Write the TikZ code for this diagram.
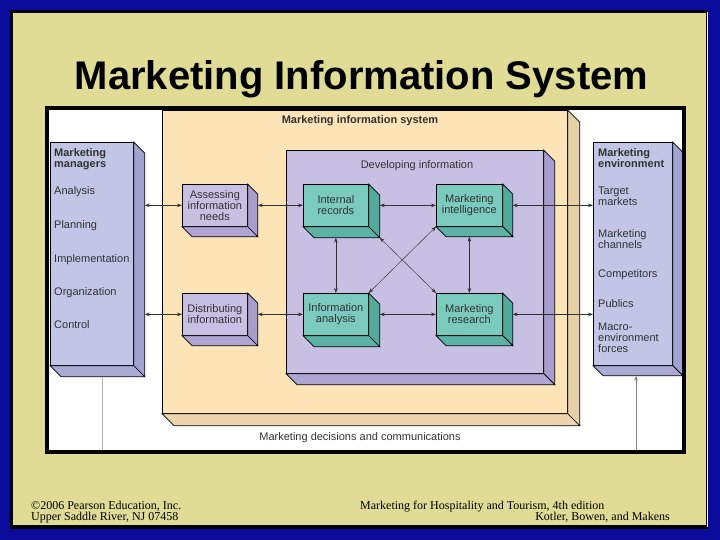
\documentclass[tikz,border=0pt]{standalone}
\usepackage{fontspec}
\setmainfont{Liberation Sans}
\newfontfamily\footfont{Liberation Serif}
\usetikzlibrary{arrows.meta,calc}

\definecolor{slideblue}{RGB}{10,10,155}
\definecolor{khaki}{RGB}{224,220,150}
\definecolor{envfront}{RGB}{195,197,230}
\definecolor{envside}{RGB}{160,163,208}
\definecolor{misfront}{RGB}{253,228,183}
\definecolor{misside}{RGB}{230,208,165}
\definecolor{devfront}{RGB}{200,192,226}
\definecolor{devside}{RGB}{168,158,206}
\definecolor{tealfront}{RGB}{122,203,190}
\definecolor{tealside}{RGB}{82,170,156}
\definecolor{inkgray}{RGB}{50,50,50}

\tikzset{
    face/.style={draw=black,line width=0.7pt,inner sep=0pt,align=center,
        text=inkgray,font=\fontsize{11}{11}\selectfont},
    item/.style={text=inkgray,inner sep=0pt,anchor=base west,
        font=\fontsize{11}{11}\selectfont},
    link/.style={draw=inkgray,line width=0.6pt,
        {Stealth[length=5pt,width=3.6pt]}-{Stealth[length=5pt,width=3.6pt]}},
    thinlink/.style={link,line width=0.45pt},
}

% solid block: name, top left, width, height, depth, front, side, text
\newcommand{\solidblock}[8]{%
    \node[face,fill=#6,minimum width=#3,minimum height=#4,anchor=north west] (#1) at (#2) {#8};
    \filldraw[fill=#7,draw=black,line width=0.7pt] (#1.north east) -- ++(#5,#5)
        -- ($(#1.south east)+(#5,#5)$) -- (#1.south east) -- cycle;
    \filldraw[fill=#7!75!#6,draw=black,line width=0.7pt] (#1.south west) -- ++(#5,#5)
        -- ($(#1.south east)+(#5,#5)$) -- (#1.south east) -- cycle;
    \coordinate (#1-r) at ($(#1.east)+(#5,0)$);
    \coordinate (#1-b) at ($(#1.south)+(0,#5)$);
    \coordinate (#1-c) at ($(#1.south east)+(#5,#5)$);
}

\begin{document}
\begin{tikzpicture}[x=1pt,y=-1pt]

    \useasboundingbox (0,0) rectangle (720,540);

    % slide
    \fill[slideblue] (0,0) rectangle (720,540);
    \fill[black] (10,10) rectangle (708,529);
    \fill[khaki] (13,13) rectangle (706,525);
    \draw[white!80!khaki,line width=1pt] (707,12) -- (707,527);

    \node[anchor=base,font=\bfseries\fontsize{40}{40}\selectfont] (heading) at (361.5,90) {Marketing Information System};

    \fill[white] (47,108) rectangle (684,452);

    % boxes
    \solidblock{mis}{162,110}{405pt}{303pt}{12}{misfront}{misside}{}
    \solidblock{dev}{286,150}{257pt}{223pt}{11}{devfront}{devside}{}

    \solidblock{ir}{303,184}{65pt}{42pt}{11}{tealfront}{tealside}{Internal\\records}
    \solidblock{mi}{436,184}{66pt}{42pt}{10}{tealfront}{tealside}{Marketing\\intelligence}
    \solidblock{ia}{303,293}{65pt}{42pt}{11}{tealfront}{tealside}{Information\\analysis}
    \solidblock{mr}{436,293}{66pt}{42pt}{10}{tealfront}{tealside}{Marketing\\research}

    \solidblock{an}{182,184}{65pt}{42pt}{10}{devfront}{devside}{Assessing\\information\\needs}
    \solidblock{di}{182,293}{65pt}{42pt}{10}{devfront}{devside}{Distributing\\information}

    \solidblock{mm}{50,142}{83pt}{223pt}{11}{envfront}{envside}{}
    \solidblock{me}{593,142}{79pt}{223pt}{10}{envfront}{envside}{}

    \node[item,anchor=base,font=\bfseries\fontsize{11}{11}\selectfont] (mistitle) at (360,124) {Marketing information system};
    \node[item,anchor=base] (devtitle) at (417,169) {Developing information};
    \node[item,anchor=base] (decisions) at (360,440) {Marketing decisions and communications};

    % labels in the side boxes
    \foreach \txt/\yy in {Marketing/157,managers/168}
        \node[item,font=\bfseries\fontsize{11}{11}\selectfont] (mgrhead-\yy) at (54,\yy) {\txt};
    \foreach \txt/\yy in {Analysis/195,Planning/229,Implementation/262,Organization/295,Control/328}
        \node[item] (mgr-\yy) at (54,\yy) {\txt};

    \foreach \txt/\yy in {Marketing/157,environment/168}
        \node[item,font=\bfseries\fontsize{11}{11}\selectfont] (envhead-\yy) at (598,\yy) {\txt};
    \foreach \txt/\yy in {Target/195,markets/206,Marketing/237,channels/248,Competitors/277,
            Publics/307,Macro-/330,environment/341,forces/352}
        \node[item] (env-\yy) at (598,\yy) {\txt};

    % connectors
    \draw[link] (an.west -| mm-r) -- (an.west);
    \draw[link] (an-r) -- (an-r -| ir.west);
    \draw[link] (ir-r) -- (ir-r -| mi.west);
    \draw[link] (mi-r) -- (mi-r -| me.west);

    \draw[link] (ir-b) -- (ia.north);
    \draw[link] (mi-b) -- (mr.north);
    \draw[thinlink] (ir-c) -- (mr.north west);
    \draw[thinlink] (mi.south west) -- (ia.north east);

    \draw[link] (di.west -| mm-r) -- (di.west);
    \draw[link] (di-r) -- (di-r -| ia.west);
    \draw[link] (ia-r) -- (ia-r -| mr.west);
    \draw[link] (mr-r) -- (mr-r -| me.west);

    \coordinate (mgrbase) at (102,452);
    \coordinate (envbase) at (636,452);
    \draw[gray!60,line width=0.6pt] (mgrbase |- mm-c) -- (mgrbase);
    \draw[draw=gray,line width=0.6pt,-{Stealth[length=5pt,width=3.6pt]}] (envbase) -- (envbase |- me-c);

    % frame
    \draw[line width=4pt] (47,108) rectangle (684,452);

    % footer
    \begin{scope}[every node/.style={inner sep=0pt,font=\footfont\fontsize{12}{12}\selectfont}]
        \node[anchor=base west] (copy) at (31,509.5) {©2006 Pearson Education, Inc.};
        \node[anchor=base west] (place) at (31,520.5) {Upper Saddle River, NJ 07458};
        \node[anchor=base west] (book) at (360,509.5) {Marketing for Hospitality and Tourism, 4th edition};
        \node[anchor=base east] (authors) at (670,520.5) {Kotler, Bowen, and Makens};
    \end{scope}

\end{tikzpicture}
\end{document}
